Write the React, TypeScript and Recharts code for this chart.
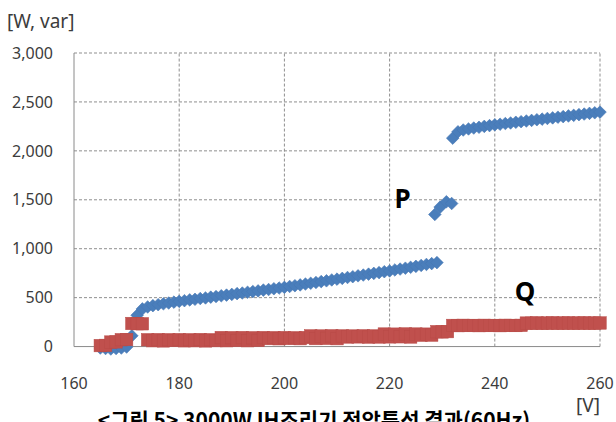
import React from 'react';
import { ScatterChart, Scatter, XAxis, YAxis, ReferenceLine } from 'recharts';

// Voltage [V] and active power P [W]
const pVolts = [
  165, 166, 167, 168, 169, 170, 171, 172, 173, 174, 175, 176, 177, 178, 179, 180,
  181, 182, 183, 184, 185, 186, 187, 188, 189, 190, 191, 192, 193, 194, 195, 196,
  197, 198, 199, 200, 201, 202, 203, 204, 205, 206, 207, 208, 209, 210, 211, 212,
  213, 214, 215, 216, 217, 218, 219, 220, 221, 222, 223, 224, 225, 226, 227, 228, 229,
  228.6, 229.6, 230.8, 231.8,
  232, 233, 234, 235, 236, 237, 238, 239, 240, 241, 242, 243, 244, 245, 246, 247,
  248, 249, 250, 251, 252, 253, 254, 255, 256, 257, 258, 259, 260,
];
const pWatts = [
  -15, -20, -25, -20, -15, -5, 110, 320, 385, 405, 418, 428, 437, 445, 454, 462,
  469, 477, 483, 491, 497, 505, 511, 519, 526, 533, 541, 547, 555, 562, 569, 577,
  583, 591, 598, 605, 614, 622, 630, 639, 647, 655, 664, 672, 681, 689, 697, 706,
  714, 723, 731, 740, 748, 756, 765, 773, 783, 792, 801, 810, 820, 829, 839, 848, 858,
  1350, 1425, 1480, 1462,
  2130, 2195, 2213, 2224, 2233, 2241, 2250, 2258, 2266, 2272, 2279, 2285, 2292, 2298, 2305, 2311,
  2318, 2324, 2331, 2337, 2344, 2350, 2357, 2363, 2370, 2376, 2383, 2389, 2396,
];

// Voltage [V] and reactive power Q [var]
const qVolts = [
  165, 166, 167, 168, 169, 170, 171, 172, 173, 174, 175, 176, 177, 178, 179, 180,
  181, 182, 183, 184, 185, 186, 187, 188, 189, 190, 191, 192, 193, 194, 195, 196,
  197, 198, 199, 200, 201, 202, 203, 204, 205, 206, 207, 208, 209, 210, 211, 212,
  213, 214, 215, 216, 217, 218, 219, 220, 221, 222, 223, 224, 225, 226, 227, 228,
  229, 230, 231, 232, 233, 234, 235, 236, 237, 238, 239, 240, 241, 242, 243, 244,
  245, 246, 247, 248, 249, 250, 251, 252, 253, 254, 255, 256, 257, 258, 259, 260,
];
const qVars = [
  10, 12, 46, 48, 70, 72, 236, 234, 233, 70, 60, 71, 58, 70, 62, 71,
  59, 70, 60, 72, 58, 70, 61, 92, 60, 91, 62, 92, 60, 90, 63, 92,
  82, 91, 80, 92, 83, 90, 81, 92, 109, 82, 108, 84, 110, 81, 109, 98,
  108, 99, 110, 97, 109, 98, 128, 99, 127, 100, 129, 98, 128, 116, 127, 117,
  152, 150, 153, 216, 214, 217, 215, 216, 214, 217, 215, 216, 214, 217, 216, 215,
  217, 240, 239, 241, 238, 240, 241, 239, 240, 241, 239, 240, 241, 239, 240, 241,
];

const xTicks = [160, 180, 200, 220, 240, 260];
const yTicks = [0, 500, 1000, 1500, 2000, 2500, 3000];

const pData = pVolts.map((x, i) => ({ x, y: pWatts[i] }));
const qData = qVolts.map((x, i) => ({ x, y: qVars[i] }));

const Diamond = (props: any) => {
  const { cx, cy } = props;
  const h = 6.3;
  return (
    <polygon
      points={`${cx},${cy - h} ${cx + h},${cy} ${cx},${cy + h} ${cx - h},${cy}`}
      fill="#4A7EBB"
      stroke="#4677B3"
      strokeWidth={0.6}
    />
  );
};

const Square = (props: any) => {
  const { cx, cy } = props;
  const s = 12.5;
  return (
    <rect x={cx - s / 2} y={cy - s / 2} width={s} height={s} fill="#C0504D" stroke="#B84A47" strokeWidth={0.5} />
  );
};

const gridColor = '#8f8f8f';
const tickStyle = { fontSize: 16, fill: '#3c3c3c', fontFamily: 'Noto Sans' };

export default function App() {
  return (
    <div style={{ position: 'absolute', left: 0, top: 0, width: 616, height: 422, background: '#fff', overflow: 'hidden' }}>
      <ScatterChart width={616} height={422} margin={{ top: 53, right: 16, bottom: 7.6, left: 0 }}>
        <XAxis
          type="number"
          dataKey="x"
          domain={[160, 260]}
          ticks={xTicks}
          axisLine={false}
          tickLine={false}
          tickSize={0}
          tickMargin={23.5}
          height={60}
          tick={tickStyle}
          interval={0}
        />
        <YAxis
          type="number"
          dataKey="y"
          domain={[-80, 3000]}
          ticks={yTicks}
          axisLine={false}
          tickLine={false}
          tickSize={0}
          tickMargin={21}
          width={74}
          tick={tickStyle}
          interval={0}
          tickFormatter={(v: number) => v.toLocaleString('en-US')}
        />
        {yTicks.slice(1).map((t) => (
          <ReferenceLine
            key={'h' + t}
            segment={[{ x: 160, y: t }, { x: 260, y: t }]}
            stroke={gridColor}
            strokeDasharray="3 2"
            strokeWidth={1}
            zIndex={-10}
          />
        ))}
        {xTicks.slice(1).map((t) => (
          <ReferenceLine
            key={'v' + t}
            segment={[{ x: t, y: 0 }, { x: t, y: 3000 }]}
            stroke={gridColor}
            strokeDasharray="3 2"
            strokeWidth={1}
            zIndex={-10}
          />
        ))}
        <ReferenceLine segment={[{ x: 160, y: 0 }, { x: 160, y: 3000 }]} stroke="#8a8a8a" strokeWidth={1} zIndex={-10} />
        <ReferenceLine segment={[{ x: 160, y: 0 }, { x: 260, y: 0 }]} stroke="#8a8a8a" strokeWidth={1} zIndex={-10} />
        <Scatter data={pData} shape={Diamond} isAnimationActive={false} />
        <Scatter data={qData} shape={Square} isAnimationActive={false} />
      </ScatterChart>
      <svg width={616} height={422} style={{ position: 'absolute', left: 0, top: 0, pointerEvents: 'none' }}>
        <text x={7} y={27.5} fontSize={19} fontFamily="Noto Sans" fill="#3c3c3c">[W, var]</text>
        <text x={600} y={412} fontSize={19} fontFamily="Noto Sans" fill="#3c3c3c" textAnchor="end">[V]</text>
        <text x={402.5} y={207.5} fontSize={26} fontWeight="bold" fontFamily="Noto Sans" fill="#000" textAnchor="middle">P</text>
        <text x={525} y={301} fontSize={26} fontWeight="bold" fontFamily="Noto Sans" fill="#000" textAnchor="middle">Q</text>
        <text x={314} y={428} fontSize={21} fontWeight="bold" fontFamily="Noto Sans CJK KR" fill="#000" textAnchor="middle">
          {'<그림 5> 3000W IH조리기 전압특성 결과(60Hz)'}
        </text>
      </svg>
    </div>
  );
}
